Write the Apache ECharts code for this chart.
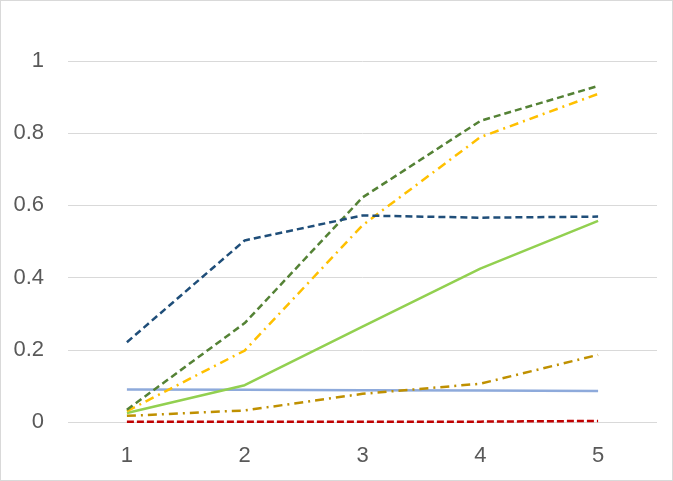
<!DOCTYPE html>
<html>
<head>
<meta charset="utf-8">
<script src="https://cdn.jsdelivr.net/npm/echarts@6/dist/echarts.min.js"></script>
<style>
  html, body { margin: 0; padding: 0; background: #fff; }
  #chart { width: 673px; height: 481px; box-sizing: border-box; border: 1px solid #d9d9d9; }
</style>
</head>
<body>
<div id="chart"></div>
<script>
// x categories and y tick range
const categories = ['1', '2', '3', '4', '5']

// series values
const darkBlueDashed = [0.221, 0.503, 0.572, 0.566, 0.569]
const darkGreenDashed = [0.034, 0.274, 0.622, 0.834, 0.931]
const yellowDashDot = [0.03, 0.198, 0.545, 0.789, 0.909]
const lightGreenSolid = [0.025, 0.102, 0.264, 0.425, 0.557]
const lightBlueSolid = [0.09, 0.089, 0.088, 0.087, 0.086]
const goldDashDot = [0.017, 0.032, 0.078, 0.106, 0.186]
const redDashed = [0.0005, 0.0005, 0.0005, 0.001, 0.003]

const chart = echarts.init(document.getElementById('chart'))

function line(name, data, color, type) {
  return {
    name: name,
    type: 'line',
    data: data,
    symbol: 'none',
    lineStyle: { color: color, width: 2.5, type: type, cap: 'butt' },
    itemStyle: { color: color }
  }
}

chart.setOption({
  animation: false,
  grid: { left: 67, right: 15, top: 60, bottom: 58 },
  xAxis: {
    type: 'category',
    data: categories,
    axisLine: { show: false },
    axisTick: { show: false },
    axisLabel: { color: '#595959', fontSize: 22, fontFamily: 'Liberation Sans', margin: 23 }
  },
  yAxis: {
    type: 'value',
    min: 0,
    max: 1,
    interval: 0.2,
    axisLine: { show: false },
    axisTick: { show: false },
    axisLabel: { color: '#595959', fontSize: 22, fontFamily: 'Liberation Sans', margin: 24 },
    splitLine: { lineStyle: { color: '#d9d9d9', width: 1 } }
  },
  series: [
    line('a', lightBlueSolid, '#8eaadb', 'solid'),
    line('b', lightGreenSolid, '#92d050', 'solid'),
    line('c', goldDashDot, '#bf9000', [9, 5, 2, 5]),
    line('d', yellowDashDot, '#ffc000', [9, 5, 2, 5]),
    line('e', darkGreenDashed, '#548235', [7, 4]),
    line('f', darkBlueDashed, '#1f4e79', [7, 4]),
    line('g', redDashed, '#c00000', [7, 3])
  ]
})
</script>
</body>
</html>
